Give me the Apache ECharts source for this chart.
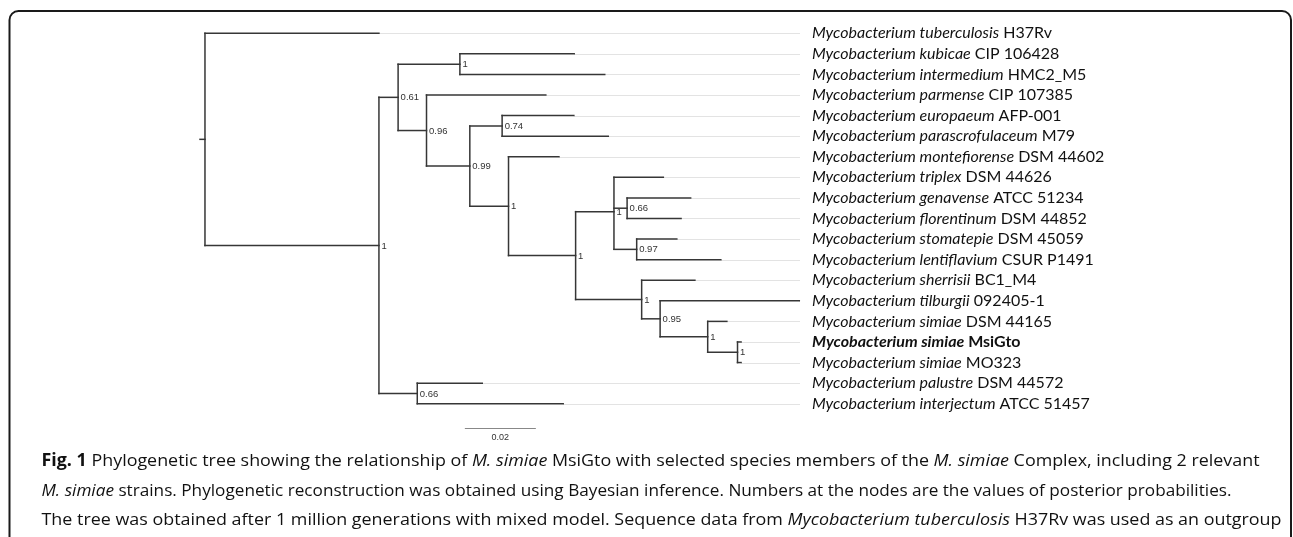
<!DOCTYPE html>
<html><head><meta charset="utf-8">
<script src="https://cdn.jsdelivr.net/npm/echarts@6/dist/echarts.min.js"></script>
<style>html,body{margin:0;padding:0;background:#fff}#c{width:1293px;height:537px}</style>
</head><body><div id="c"></div>
<script>
// ---------- DATA ----------
const leafSpecies = [
  'Mycobacterium tuberculosis','Mycobacterium kubicae','Mycobacterium intermedium',
  'Mycobacterium parmense','Mycobacterium europaeum','Mycobacterium parascrofulaceum',
  'Mycobacterium montefiorense','Mycobacterium triplex','Mycobacterium genavense',
  'Mycobacterium florentinum','Mycobacterium stomatepie','Mycobacterium lentiflavium',
  'Mycobacterium sherrisii','Mycobacterium tilburgii','Mycobacterium simiae',
  'Mycobacterium simiae','Mycobacterium simiae','Mycobacterium palustre','Mycobacterium interjectum'
];
const leafStrains = [
  'H37Rv','CIP 106428','HMC2_M5','CIP 107385','AFP-001','M79','DSM 44602','DSM 44626',
  'ATCC 51234','DSM 44852','DSM 45059','CSUR P1491','BC1_M4','092405-1','DSM 44165',
  'MsiGto','MO323','DSM 44572','ATCC 51457'
];
const highlightStrain = 'MsiGto';
const leafParent = [
  'root','KI','KI','n096','n074','n074','B','D','n066a','n066a','n097','n097',
  'E','n095','F','G','G','n066b','n066b'
];
// terminal branch lengths (substitutions/site)
const leafBranch = [
  0.0490,0.0322,0.0408,0.0336,0.0202,0.0299,0.0142,0.0139,0.0179,0.0152,0.0113,0.0237,
  0.0150,0.0392,0.0054,0.0010,0.0010,0.0183,0.0411
];
// internal nodes
const nodeIds     = ['root','A','n061','KI','n096','n099','n074','B','C','D','n066a','n097','E','n095','F','G','n066b'];
const nodeParent  = [null,'root','A','n061','n061','n096','n099','n099','B','C','D','D','C','E','n095','F','A'];
const nodeBranch  = [0.0014,0.0490,0.0054,0.0174,0.0080,0.0122,0.0091,0.0109,0.0189,0.0108,0.0037,0.0064,0.0186,0.0052,0.0134,0.0084,0.0108];
const nodeSupport = ['','1','0.61','1','0.96','0.99','0.74','1','1','1','0.66','0.97','1','0.95','1','1','0.66'];
// scale bar
const scaleBarStart = 0.0746;
const scaleBarLength = 0.02;
const scaleBarLabel = '0.02';
// caption
const captionLines = [
  [['Fig. 1','b'],[' Phylogenetic tree showing the relationship of ',''],['M. simiae','i'],[' MsiGto with selected species members of the ',''],['M. simiae','i'],[' Complex, including 2 relevant','']],
  [['M. simiae','i'],[' strains. Phylogenetic reconstruction was obtained using Bayesian inference. Numbers at the nodes are the values of posterior probabilities.','']],
  [['The tree was obtained after 1 million generations with mixed model. Sequence data from ',''],['Mycobacterium tuberculosis','i'],[' H37Rv was used as an outgroup','']]
];

// ---------- TREE LAYOUT (from data) ----------
const depth = {};
function nodeDepth(id){
  if (id in depth) return depth[id];
  const k = nodeIds.indexOf(id);
  const p = nodeParent[k];
  depth[id] = (p ? nodeDepth(p) : 0) + nodeBranch[k];
  return depth[id];
}
nodeIds.forEach(nodeDepth);
const leafDepth = leafParent.map((p,i)=>depth[p]+leafBranch[i]);
const ycache = {};
function childYs(id){
  const ys = [];
  leafParent.forEach((p,i)=>{ if(p===id) ys.push(i); });
  nodeIds.forEach((n,k)=>{ if(nodeParent[k]===id) ys.push(nodeY(n)); });
  return ys;
}
function nodeY(id){
  if (id in ycache) return ycache[id];
  const ys = childYs(id);
  ycache[id] = ys.reduce((a,b)=>a+b,0)/ys.length;
  return ycache[id];
}
nodeIds.forEach(nodeY);

const branchSegs = [];
const leaderSegs = [];
nodeIds.forEach((id,k)=>{
  const p = nodeParent[k];
  const y = nodeY(id);
  branchSegs.push([p ? depth[p] : 0, y, depth[id], y]);
  const ys = childYs(id);
  branchSegs.push([depth[id], Math.min(...ys), depth[id], Math.max(...ys)]);
});
leafParent.forEach((p,i)=>{
  branchSegs.push([depth[p], i, leafDepth[i], i]);
  leaderSegs.push([leafDepth[i], i, leafDepth[i], i]);
});
const supportData = nodeIds.map((id,k)=>[depth[id], nodeY(id), nodeSupport[k]]).filter(d=>d[2]!=='');

// ---------- CAPTION MEASURE ----------
const capFont = 'Open Sans', capSize = 17;
const capTargets = [1218, 1190, 1240];
const capStarts = [41.5, 41.5, 41.5];
const capYs = [461, 491, 520];
const mctx = document.createElement('canvas').getContext('2d');
function segStyle(t){ return {fontStyle: t==='i'?'italic':'normal', fontWeight: t==='b'?'bold':'normal'}; }
function measureLine(line){
  let w = 0;
  line.forEach(([txt,t])=>{ const s=segStyle(t); mctx.font = `${s.fontStyle} ${s.fontWeight} ${capSize}px "${capFont}"`; w += mctx.measureText(txt).width; });
  return w;
}
const capRich = {
  b:{fontWeight:'bold',fontStyle:'normal',fontSize:capSize,fontFamily:capFont,fill:'#111'},
  i:{fontWeight:'normal',fontStyle:'italic',fontSize:capSize,fontFamily:capFont,fill:'#111'},
  r:{fontWeight:'normal',fontStyle:'normal',fontSize:capSize,fontFamily:capFont,fill:'#111'}
};
const captionGraphics = captionLines.map((line,li)=>{
  const text = line.map(([txt,t])=>`{${t||'r'}|${txt}}`).join('');
  const sx = capTargets[li]/measureLine(line);
  return {type:'text', x:capStarts[li], y:capYs[li], scaleX:sx, scaleY:1,
    style:{text, rich:capRich, fontSize:capSize, fontFamily:capFont, fill:'#111', verticalAlign:'middle', align:'left'}};
});

// ---------- CHART ----------
const chart = echarts.init(document.getElementById('c'), null, {renderer:'canvas'});
const lineColor = '#363636';
const labelFont = 'Lato';
const labelSize = 16;
chart.setOption({
  animation:false,
  grid:{left:200, right:493, top:23, height:391, outerBoundsMode:'none', containLabel:false},
  xAxis:{type:'value', min:0, max:0.169, show:false},
  yAxis:[
    {type:'category', position:'right', inverse:true,
     data: leafSpecies.map((s,i)=>s+' '+leafStrains[i]),
     axisLine:{show:false}, axisTick:{show:false}, splitLine:{show:false},
     axisLabel:{interval:0, margin:12, align:'left',
       formatter:(v,i)=> leafStrains[i]===highlightStrain
          ? `{ib|${leafSpecies[i]}}{nb| ${leafStrains[i]}}`
          : `{i|${leafSpecies[i]}}{n| ${leafStrains[i]}}`,
       rich:{
         i:{fontStyle:'italic',fontFamily:labelFont,fontSize:labelSize,color:'#111'},
         n:{fontStyle:'normal',fontFamily:labelFont,fontSize:labelSize,color:'#111'},
         ib:{fontStyle:'italic',fontWeight:'bold',fontFamily:labelFont,fontSize:labelSize,color:'#111'},
         nb:{fontStyle:'normal',fontWeight:'bold',fontFamily:labelFont,fontSize:labelSize,color:'#111'}
       }}},
    {type:'value', min:-0.5, max:leafSpecies.length-0.5, inverse:true, show:false}
  ],
  graphic:[
    {type:'rect', shape:{x:9.5, y:11, width:1281.5, height:600, r:9}, style:{fill:'none', stroke:'#1a1a1a', lineWidth:2}},
    ...captionGraphics
  ],
  series:[
    {type:'custom', yAxisIndex:1, data:leaderSegs, encode:{x:[0,2], y:[1,3]}, silent:true,
     renderItem:(params, api)=>{
       const p = api.coord([api.value(0), api.value(1)]);
       const right = params.coordSys.x + params.coordSys.width;
       return {type:'line', shape:{x1:p[0], y1:Math.round(p[1])+0.5, x2:right, y2:Math.round(p[1])+0.5}, style:{stroke:'#e3e3e3', lineWidth:1}};
     }},
    {type:'custom', yAxisIndex:1, data:branchSegs, encode:{x:[0,2], y:[1,3]}, silent:true,
     renderItem:(params, api)=>{
       const a = api.coord([api.value(0), api.value(1)]);
       const b = api.coord([api.value(2), api.value(3)]);
       return {type:'line', shape:{x1:a[0], y1:a[1], x2:b[0], y2:b[1]}, style:{stroke:lineColor, lineWidth:1.5, lineCap:'square'}};
     }},
    {type:'custom', yAxisIndex:1, data:supportData, encode:{x:0, y:1}, silent:true,
     renderItem:(params, api)=>{
       const p = api.coord([api.value(0), api.value(1)]);
       return {type:'text', x:p[0]+2.5, y:p[1]+0.5, style:{text:String(supportData[params.dataIndex][2]), fontSize:9.5, fontFamily:'Liberation Sans', fill:'#333', verticalAlign:'middle', align:'left'}};
     }},
    {type:'custom', yAxisIndex:1, data:[[scaleBarStart, scaleBarLength]], encode:{x:0}, silent:true,
     renderItem:(params, api)=>{
       const a = api.coord([api.value(0), leafSpecies.length-0.5]);
       const b = api.coord([api.value(0)+api.value(1), leafSpecies.length-0.5]);
       const y = params.coordSys.y + params.coordSys.height + 14;
       return {type:'group', children:[
         {type:'line', shape:{x1:a[0], y1:y+0.5, x2:b[0], y2:y+0.5}, style:{stroke:'#888', lineWidth:1}},
         {type:'text', x:(a[0]+b[0])/2, y:y+9.5, style:{text:scaleBarLabel, fontSize:9, fontFamily:'Liberation Sans', fill:'#333', align:'center', verticalAlign:'middle'}}
       ]};
     }}
  ]
});
</script></body></html>
